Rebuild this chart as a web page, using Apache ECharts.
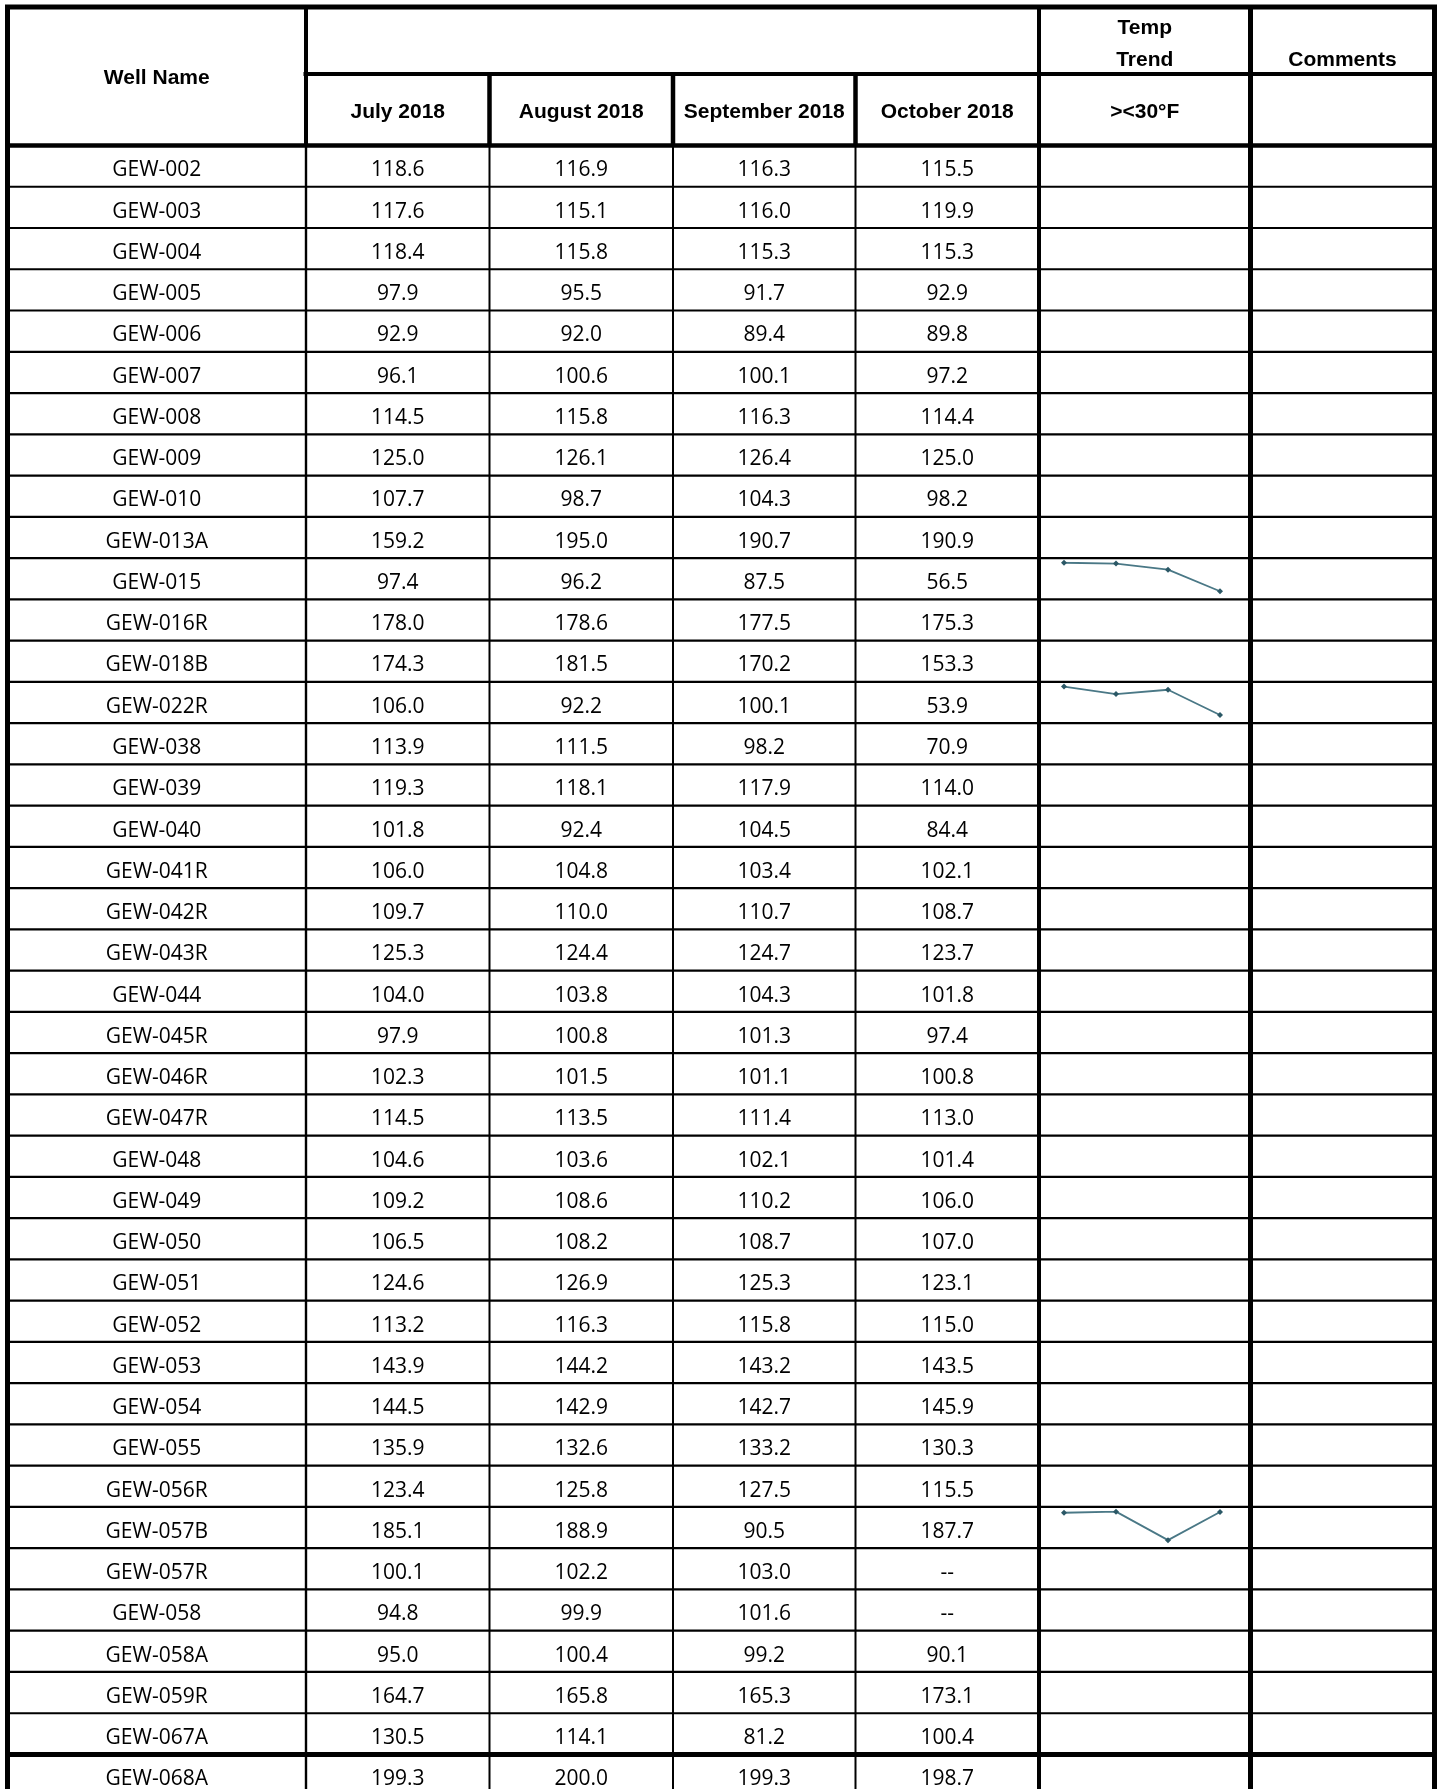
<!DOCTYPE html>
<html>
<head>
<meta charset="utf-8">
<title>Well temperatures</title>
<script src="https://cdn.jsdelivr.net/npm/echarts@6/dist/echarts.min.js"></script>
<style>
  html, body { margin: 0; padding: 0; background: #fff; }
  #chart { width: 1439px; height: 1789px; }
</style>
</head>
<body>
<div id="chart"></div>
<script>
// table data
const wells = ['GEW-002', 'GEW-003', 'GEW-004', 'GEW-005', 'GEW-006', 'GEW-007', 'GEW-008', 'GEW-009',
  'GEW-010', 'GEW-013A', 'GEW-015', 'GEW-016R', 'GEW-018B', 'GEW-022R', 'GEW-038', 'GEW-039', 'GEW-040',
  'GEW-041R', 'GEW-042R', 'GEW-043R', 'GEW-044', 'GEW-045R', 'GEW-046R', 'GEW-047R', 'GEW-048', 'GEW-049',
  'GEW-050', 'GEW-051', 'GEW-052', 'GEW-053', 'GEW-054', 'GEW-055', 'GEW-056R', 'GEW-057B', 'GEW-057R',
  'GEW-058', 'GEW-058A', 'GEW-059R', 'GEW-067A', 'GEW-068A'];
const months = ['July 2018', 'August 2018', 'September 2018', 'October 2018'];
const july = [118.6, 117.6, 118.4, 97.9, 92.9, 96.1, 114.5, 125.0, 107.7, 159.2, 97.4, 178.0, 174.3, 106.0,
  113.9, 119.3, 101.8, 106.0, 109.7, 125.3, 104.0, 97.9, 102.3, 114.5, 104.6, 109.2, 106.5, 124.6, 113.2,
  143.9, 144.5, 135.9, 123.4, 185.1, 100.1, 94.8, 95.0, 164.7, 130.5, 199.3];
const august = [116.9, 115.1, 115.8, 95.5, 92.0, 100.6, 115.8, 126.1, 98.7, 195.0, 96.2, 178.6, 181.5, 92.2,
  111.5, 118.1, 92.4, 104.8, 110.0, 124.4, 103.8, 100.8, 101.5, 113.5, 103.6, 108.6, 108.2, 126.9, 116.3,
  144.2, 142.9, 132.6, 125.8, 188.9, 102.2, 99.9, 100.4, 165.8, 114.1, 200.0];
const september = [116.3, 116.0, 115.3, 91.7, 89.4, 100.1, 116.3, 126.4, 104.3, 190.7, 87.5, 177.5, 170.2, 100.1,
  98.2, 117.9, 104.5, 103.4, 110.7, 124.7, 104.3, 101.3, 101.1, 111.4, 102.1, 110.2, 108.7, 125.3, 115.8,
  143.2, 142.7, 133.2, 127.5, 90.5, 103.0, 101.6, 99.2, 165.3, 81.2, 199.3];
const october = [115.5, 119.9, 115.3, 92.9, 89.8, 97.2, 114.4, 125.0, 98.2, 190.9, 56.5, 175.3, 153.3, 53.9,
  70.9, 114.0, 84.4, 102.1, 108.7, 123.7, 101.8, 97.4, 100.8, 113.0, 101.4, 106.0, 107.0, 123.1, 115.0,
  143.5, 145.9, 130.3, 115.5, 187.7, null, null, 90.1, 173.1, 100.4, 198.7];
// wells flagged with a temp change beyond 30°F (sparkline shown)
const trendWells = ['GEW-015', 'GEW-022R', 'GEW-057B'];

// layout
const colWidths = [298.5, 183.5, 183.5, 182.5, 183.5, 211.5, 184];
const ROW_H = 41.256;
const HEAD1 = 67, HEAD2 = 71.5;
const GRID_LEFT = 7.5, GRID_TOP = 7, CANVAS_H = 1789;
const BODY_FONT = '21px "Open Sans"';
const HEAD_FONT = 'bold 21px "Liberation Sans"';

const edges = [0];
colWidths.forEach(w => edges.push(edges[edges.length - 1] + w));
const xMax = edges[edges.length - 1];
const yMin = -(HEAD1 + HEAD2) / ROW_H;
const yHead = yMin + HEAD1 / ROW_H;
const yMax = yMin + (CANVAS_H - GRID_TOP) / ROW_H;
const nRows = wells.length;
const columns = [july, august, september, october];

// text cells: [x0, y0, x1, y1], plus text/font/alignment
const cells = [];
const addCell = (x0, y0, x1, y1, text, font, valign, dy) =>
  cells.push({ value: [x0, y0, x1, y1], text, font, valign: valign || 'middle', dy: dy || 0 });

addCell(edges[0], yMin, edges[1], 0, 'Well Name', HEAD_FONT, 'middle', 2);
months.forEach((m, i) => addCell(edges[i + 1], yHead, edges[i + 2], 0, m, HEAD_FONT, 'middle', 2));
addCell(edges[5], yMin, edges[6], yHead, 'Temp\nTrend', HEAD_FONT, 'middle', 3.5);
addCell(edges[5], yHead, edges[6], 0, '><30°F', HEAD_FONT, 'middle', 2);
addCell(edges[6], yMin, edges[7], yHead, 'Comments', HEAD_FONT, 'bottom', 2);

wells.forEach((w, r) => {
  addCell(edges[0], r, edges[1], r + 1, w, BODY_FONT, 'middle', 4.3);
  columns.forEach((col, c) => {
    const v = col[r];
    addCell(edges[c + 1], r, edges[c + 2], r + 1, v == null ? '--' : v.toFixed(1), BODY_FONT, 'middle', 4.3);
  });
});

// rules: [x0, y0, x1, y1, lineWidth]
const rules = [];
rules.push([edges[0], yMin, edges[7], yMin, 5]);
rules.push([edges[1], yHead, edges[7], yHead, 4]);
rules.push([edges[0], 0, edges[7], 0, 4.5]);
for (let r = 1; r <= nRows; r++) {
  rules.push([edges[0], r, edges[7], r, r === nRows - 1 ? 5 : 2.2]);
}
const headV = [5, 4, 4.5, 4.5, 4.5, 4, 5, 5];
const bodyV = [5, 2.4, 2, 2, 2, 4, 5, 5];
edges.forEach((x, i) => {
  const top = (i >= 2 && i <= 4) ? yHead : yMin;
  rules.push([x, top, x, 0, headV[i]]);
  rules.push([x, 0, x, yMax + 1, bodyV[i]]);
});

// sparkline mini grids, positioned over the Temp Trend cells
const sparkGrids = [], sparkX = [], sparkY = [], sparkSeries = [];
trendWells.forEach((w, k) => {
  const r = wells.indexOf(w);
  const rowTop = GRID_TOP + (r - yMin) * ROW_H;
  sparkGrids.push({
    left: GRID_LEFT + edges[5] - 1,
    width: 208,
    top: rowTop + 4.7,
    height: 28.5
  });
  sparkX.push({ type: 'category', gridIndex: k + 1, data: months, boundaryGap: true, show: false });
  sparkY.push({ type: 'value', gridIndex: k + 1, min: 'dataMin', max: 'dataMax', show: false });
  sparkSeries.push({
    type: 'line',
    xAxisIndex: k + 1,
    yAxisIndex: k + 1,
    data: columns.map(col => col[r]),
    symbol: 'diamond',
    symbolSize: 6,
    lineStyle: { color: '#4a7886', width: 1.8 },
    itemStyle: { color: '#2b5866' },
    silent: true
  });
});

const chart = echarts.init(document.getElementById('chart'));
chart.setOption({
  backgroundColor: '#ffffff',
  animation: false,
  grid: [{ left: GRID_LEFT, top: GRID_TOP, width: xMax, height: CANVAS_H - GRID_TOP }].concat(sparkGrids),
  xAxis: [{ type: 'value', min: 0, max: xMax, show: false }].concat(sparkX),
  yAxis: [{ type: 'value', min: yMin, max: yMax, inverse: true, show: false }].concat(sparkY),
  series: [
    {
      type: 'custom',
      name: 'cells',
      coordinateSystem: 'cartesian2d',
      silent: true,
      data: cells.map(c => c.value),
      encode: { x: [0, 2], y: [1, 3] },
      renderItem: (params, api) => {
        const cell = cells[params.dataIndex];
        const p0 = api.coord([api.value(0), api.value(1)]);
        const p1 = api.coord([api.value(2), api.value(3)]);
        const cx = (p0[0] + p1[0]) / 2;
        let y = (p0[1] + p1[1]) / 2;
        if (cell.valign === 'bottom') y = p1[1];
        return {
          type: 'text',
          style: {
            text: cell.text,
            x: cx,
            y: y + cell.dy,
            font: cell.font,
            fill: '#000',
            align: 'center',
            verticalAlign: cell.valign,
            lineHeight: 32
          }
        };
      }
    },
    {
      type: 'custom',
      name: 'rules',
      coordinateSystem: 'cartesian2d',
      silent: true,
      data: rules,
      encode: { x: [0, 2], y: [1, 3] },
      renderItem: (params, api) => {
        const p0 = api.coord([api.value(0), api.value(1)]);
        const p1 = api.coord([api.value(2), api.value(3)]);
        const w = api.value(4);
        // stretch horizontal rules so corners close cleanly
        const ext = p0[1] === p1[1] ? 2.5 : 0;
        return {
          type: 'line',
          shape: { x1: p0[0] - ext, y1: p0[1], x2: p1[0] + ext, y2: p1[1] },
          style: { stroke: '#000', lineWidth: w }
        };
      }
    }
  ].concat(sparkSeries)
});
</script>
</body>
</html>
